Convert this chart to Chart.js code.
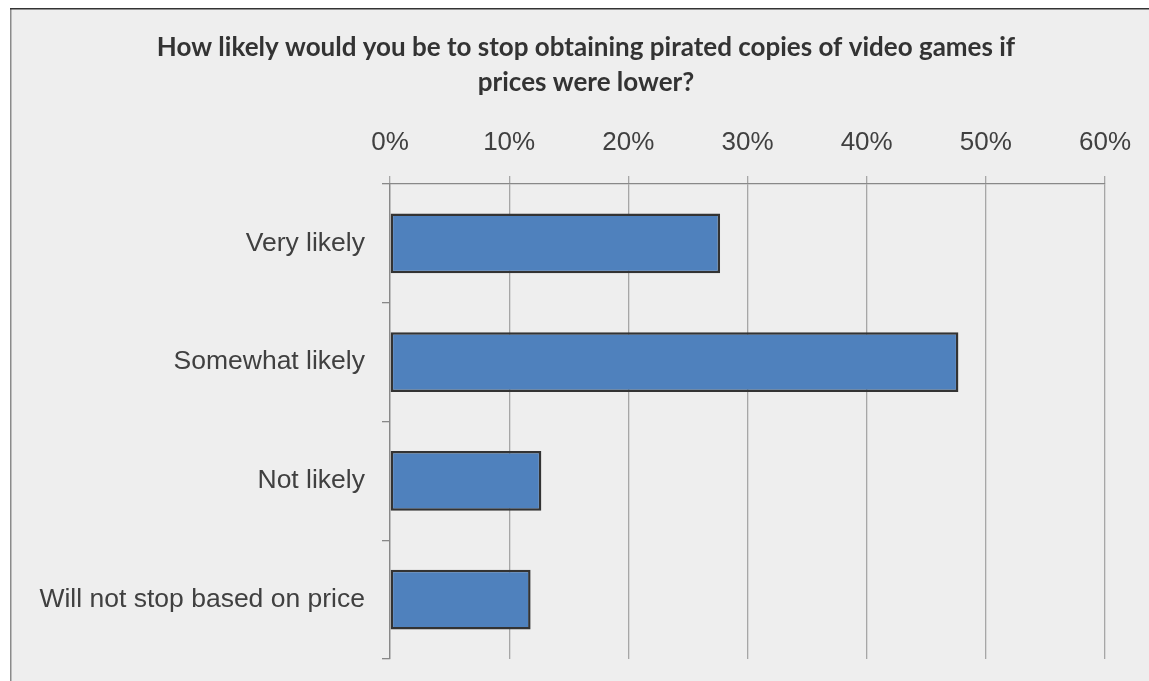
<!DOCTYPE html>
<html>
<head>
<meta charset="utf-8">
<title>Piracy and prices</title>
<script src="https://cdn.jsdelivr.net/npm/chart.js@4.4.1/dist/chart.umd.min.js"></script>
<style>
    html, body { margin: 0; padding: 0; background: #ffffff; }
    #wrap { width: 1149px; height: 681px; position: relative; }
</style>
</head>
<body>
<div id="wrap"><canvas id="surveyChart"></canvas></div>
<script>
// Survey answers (share of respondents, %)
const categories = ['Very likely', 'Somewhat likely', 'Not likely', 'Will not stop based on price'];
const shares = [27.7, 47.7, 12.7, 11.8];
const titleLines = [
    'How likely would you be to stop obtaining pirated copies of video games if',
    'prices were lower?'
];
const axisMin = 0;
const axisMax = 60;
const axisStep = 10;

// Grey panel with the dark top edge and lighter left edge
const panelBackground = {
    id: 'panelBackground',
    beforeDraw(chart) {
        const { ctx, width, height } = chart;
        ctx.save();
        ctx.fillStyle = '#ffffff';
        ctx.fillRect(0, 0, width, height);
        ctx.fillStyle = '#eeeeee';
        ctx.fillRect(10, 8, width - 10, height - 8);
        ctx.lineWidth = 1.5;
        ctx.strokeStyle = '#8a8a8a';
        ctx.beginPath();
        ctx.moveTo(10.75, 8);
        ctx.lineTo(10.75, height);
        ctx.stroke();
        ctx.strokeStyle = '#333333';
        ctx.beginPath();
        ctx.moveTo(10, 8.75);
        ctx.lineTo(width, 8.75);
        ctx.stroke();
        ctx.restore();
    }
};

// Two-line bold heading, centred a little right of the canvas middle
const headingText = {
    id: 'headingText',
    afterDraw(chart) {
        const { ctx } = chart;
        ctx.save();
        ctx.fillStyle = '#333333';
        ctx.font = "bold 26px Lato, sans-serif";
        ctx.textAlign = 'center';
        ctx.textBaseline = 'alphabetic';
        titleLines.forEach((line, i) => ctx.fillText(line, 586, 56 + i * 35));
        ctx.restore();
    }
};

const tickFont = { family: "'Liberation Sans', Arial, sans-serif", size: 26 };
const categoryFont = { family: "'Liberation Sans', Arial, sans-serif", size: 26.5 };

const ctx = document.getElementById('surveyChart').getContext('2d');
new Chart(ctx, {
    type: 'bar',
    data: {
        labels: categories,
        datasets: [{
            data: shares,
            backgroundColor: '#4f81bd',
            borderColor: '#333333',
            borderWidth: 2.5,
            borderSkipped: false,
            barPercentage: 1,
            categoryPercentage: 0.505
        }]
    },
    options: {
        indexAxis: 'y',
        responsive: true,
        maintainAspectRatio: false,
        animation: false,
        layout: {
            padding: { top: 100, left: 20, right: 43, bottom: 22 }
        },
        scales: {
            x: {
                position: 'top',
                min: axisMin,
                max: axisMax,
                afterFit(scale) { scale.height = 84; },
                ticks: {
                    stepSize: axisStep,
                    padding: 18,
                    color: '#404040',
                    font: tickFont,
                    callback: (v) => v + '%'
                },
                grid: {
                    color: '#a6a6a6',
                    lineWidth: 1.3,
                    tickLength: 8,
                    tickColor: '#a6a6a6'
                },
                border: { color: '#888888', width: 1.3 }
            },
            y: {
                afterFit(scale) {
                    scale.width = 370;
                    scale.paddingTop = 0;
                    scale.paddingBottom = 0;
                },
                ticks: {
                    padding: 17,
                    color: '#404040',
                    font: categoryFont
                },
                grid: {
                    offset: true,
                    drawOnChartArea: false,
                    tickLength: 8,
                    color: '#888888',
                    lineWidth: 1.3
                },
                border: { color: '#888888', width: 1.3 }
            }
        },
        plugins: {
            legend: { display: false },
            tooltip: { enabled: false },
            title: { display: false }
        }
    },
    plugins: [panelBackground, headingText]
});
</script>
</body>
</html>
